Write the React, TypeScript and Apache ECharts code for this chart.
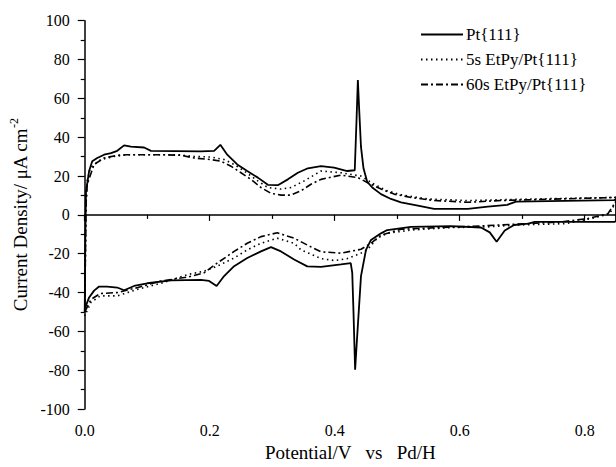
import React, { useEffect, useRef } from "react";
import * as echarts from "echarts";

const seriesNames = ["Pt{111}", "5s EtPy/Pt{111}", "60s EtPy/Pt{111}"];

const xTicks = { min: 0, max: 0.85, interval: 0.2 };
const yTicks = { min: -100, max: 100, interval: 20 };

// Pt{111}: anodic sweep then cathodic sweep [potential V, current µA cm^-2]
const ptAnodic: number[][] = [
  [0, -50], [0.001, -10], [0.002, 12], [0.007, 22.6], [0.012, 27.6], [0.02, 29.3],
  [0.031, 31], [0.042, 31.8], [0.052, 33], [0.063, 35.8], [0.074, 35.2], [0.095, 34.7],
  [0.106, 33], [0.186, 32.7], [0.207, 33], [0.217, 36.1], [0.228, 31], [0.244, 26],
  [0.26, 22.6], [0.277, 19.2], [0.293, 15.5], [0.309, 15.3], [0.325, 18.3], [0.341, 21.7],
  [0.357, 24], [0.378, 25.1], [0.399, 24.3], [0.42, 22.6], [0.432, 23], [0.435, 50],
  [0.437, 69.5], [0.439, 55], [0.442, 35], [0.446, 24], [0.452, 17], [0.46, 14.1],
  [0.474, 10.7], [0.49, 8.2], [0.506, 6.5], [0.533, 4.8], [0.559, 3.1], [0.613, 3.1],
  [0.645, 4.3], [0.676, 5.2], [0.69, 6.8], [0.847, 7.6], [0.85, 8],
];
const ptCathodic: number[][] = [
  [0.85, -3], [0.848, -3.6], [0.72, -3.6], [0.71, -4.5], [0.687, -5.2], [0.672, -8],
  [0.659, -13.8], [0.648, -9], [0.634, -6.5], [0.586, -5.8], [0.522, -6.2], [0.484, -7.8],
  [0.474, -9.5], [0.458, -12.9], [0.45, -18], [0.442, -31.5], [0.436, -62], [0.4326, -79.7],
  [0.43, -50], [0.428, -29.8], [0.4256, -24.8], [0.41, -25.5], [0.378, -26.8], [0.356, -26.5],
  [0.335, -23], [0.314, -18.8], [0.298, -16.6], [0.282, -18.8], [0.26, -22.2], [0.239, -26.4],
  [0.223, -31.5], [0.211, -36.6], [0.199, -34], [0.186, -33.5], [0.138, -33.7], [0.1, -35.2],
  [0.079, -36.6], [0.063, -38.8], [0.052, -37.4], [0.036, -36.9], [0.023, -36.9], [0.015, -39],
  [0.007, -42.5], [0.002, -46.7], [0, -50],
];

// 5s EtPy/Pt{111}
const etpy5Anodic: number[][] = [
  [0, -52], [0.002, 5], [0.004, 17.5], [0.009, 24.3], [0.026, 28.5], [0.047, 30.1],
  [0.068, 31], [0.15, 31], [0.175, 30.1], [0.202, 29.8], [0.223, 28.5], [0.239, 26],
  [0.255, 22.6], [0.277, 17.5], [0.293, 14.1], [0.314, 13.3], [0.33, 14.1], [0.351, 17.5],
  [0.378, 22.6], [0.41, 21.7], [0.442, 20], [0.463, 15.8], [0.484, 12.4], [0.506, 10.4],
  [0.548, 8.2], [0.613, 7.4], [0.719, 8.2], [0.85, 9],
];
const etpy5Cathodic: number[][] = [
  [0.85, 7], [0.84, 0.6], [0.81, -1.9], [0.77, -4.5], [0.692, -5.2], [0.644, -6.2],
  [0.586, -6.5], [0.522, -7.8], [0.484, -9.5], [0.468, -12], [0.452, -18], [0.442, -19.7],
  [0.42, -22.5], [0.4, -23.5], [0.378, -22.5], [0.346, -18], [0.335, -14.6], [0.308, -12],
  [0.282, -14.6], [0.26, -18], [0.239, -22.2], [0.212, -26.4], [0.191, -29], [0.165, -30.7],
  [0.122, -35.2], [0.085, -38.3], [0.052, -41.7], [0.025, -41.7], [0.01, -45], [0, -52],
];

// 60s EtPy/Pt{111}
const etpy60Anodic: number[][] = [
  [0, -50], [0.002, 5], [0.004, 15.8], [0.015, 26], [0.031, 29.3], [0.052, 30.7],
  [0.068, 31], [0.122, 31], [0.154, 30.7], [0.175, 29.3], [0.202, 28.5], [0.218, 27.6],
  [0.234, 25.1], [0.25, 21.7], [0.266, 18.3], [0.282, 14.1], [0.298, 11.1], [0.314, 10.2],
  [0.33, 10.2], [0.346, 12.4], [0.362, 15.8], [0.378, 18.3], [0.41, 20.5], [0.437, 19.2],
  [0.452, 16.7], [0.474, 13.3], [0.495, 10.7], [0.522, 9], [0.559, 7.4], [0.613, 6.5],
  [0.666, 7.4], [0.85, 9],
];
const etpy60Cathodic: number[][] = [
  [0.85, 7], [0.837, 0.6], [0.805, -1.9], [0.762, -3.6], [0.708, -4.5], [0.666, -5.2],
  [0.634, -5.7], [0.57, -6.5], [0.506, -7.4], [0.474, -10.4], [0.458, -14.6], [0.442, -17.7],
  [0.41, -19.7], [0.378, -19], [0.356, -15.5], [0.335, -12], [0.308, -9.2], [0.282, -11.2],
  [0.26, -14.6], [0.239, -18.8], [0.212, -24.8], [0.191, -29.8], [0.165, -32], [0.122, -34],
  [0.085, -37.4], [0.052, -40], [0.025, -40.5], [0.01, -43.5], [0, -50],
];

const FONT = "'Liberation Serif', 'Times New Roman', serif";

export default function App() {
  const ref = useRef<HTMLDivElement>(null);
  useEffect(() => {
    if (!ref.current) return;
    const chart = echarts.init(ref.current, undefined, { renderer: "svg" });
    const lineTypes: any[] = ["solid", [1.5, 3.5], [7, 3, 2, 3]];
    const datas = [
      [...ptAnodic, ...ptCathodic],
      [...etpy5Anodic, ...etpy5Cathodic],
      [...etpy60Anodic, ...etpy60Cathodic],
    ];
    chart.setOption({
      animation: false,
      backgroundColor: "#ffffff",
      textStyle: { fontFamily: FONT, color: "#000" },
      grid: { left: 83.5, right: 0, top: 20.7, bottom: 52 },
      legend: {
        orient: "vertical",
        left: 415,
        top: 21,
        itemWidth: 42,
        itemHeight: 10,
        itemGap: 8,
        data: seriesNames,
        itemStyle: { opacity: 0 },
        textStyle: { fontFamily: FONT, fontSize: 17, color: "#000", padding: [0, 0, 0, -2] },
      },
      xAxis: {
        type: "value",
        min: xTicks.min,
        max: xTicks.max,
        interval: xTicks.interval,
        name: "Potential/V   vs   Pd/H",
        nameLocation: "middle",
        nameGap: 32,
        nameTextStyle: { fontFamily: FONT, fontSize: 19, color: "#000" },
        axisLine: { lineStyle: { color: "#000", width: 1.5 } },
        axisTick: { inside: false, length: 6, lineStyle: { color: "#000", width: 1.2 } },
        minorTick: { show: true, splitNumber: 2, length: 4, lineStyle: { color: "#000", width: 1.2 } },
        splitLine: { show: false },
        axisLabel: {
          fontFamily: FONT,
          fontSize: 16,
          color: "#000",
          margin: 13,
          showMaxLabel: false,
          formatter: (v: number) => v.toFixed(1),
        },
      },
      yAxis: {
        type: "value",
        min: yTicks.min,
        max: yTicks.max,
        interval: yTicks.interval,
        name: "{m|Current Density/ μA cm}{s|-2}",
        nameLocation: "middle",
        nameRotate: 90,
        nameGap: 45,
        nameTextStyle: {
          fontFamily: FONT,
          fontSize: 19,
          color: "#000",
          rich: {
            m: { fontFamily: FONT, fontSize: 19, color: "#000", lineHeight: 24 },
            s: { fontFamily: FONT, fontSize: 12, color: "#000", verticalAlign: "top", lineHeight: 24 },
          },
        },
        axisLine: { show: true, lineStyle: { color: "#000", width: 1.5 } },
        axisTick: { show: true, inside: false, length: 7, lineStyle: { color: "#000", width: 1.2 } },
        minorTick: { show: true, splitNumber: 2, length: 4, lineStyle: { color: "#000", width: 1.2 } },
        splitLine: { show: false },
        axisLabel: { fontFamily: FONT, fontSize: 16, color: "#000", margin: 15 },
      },
      series: seriesNames.map((name, i) => ({
        name,
        type: "line",
        data: datas[i],
        symbol: "none",
        showSymbol: false,
        clip: true,
        lineStyle: { color: "#000", width: i === 0 ? 1.8 : 1.6, type: lineTypes[i] },
        itemStyle: { color: "#000" },
      })),
    });
    return () => chart.dispose();
  }, []);
  return (
    <div
      ref={ref}
      style={{ position: "fixed", left: 0, top: 0, width: 616, height: 467, background: "#fff" }}
    />
  );
}
